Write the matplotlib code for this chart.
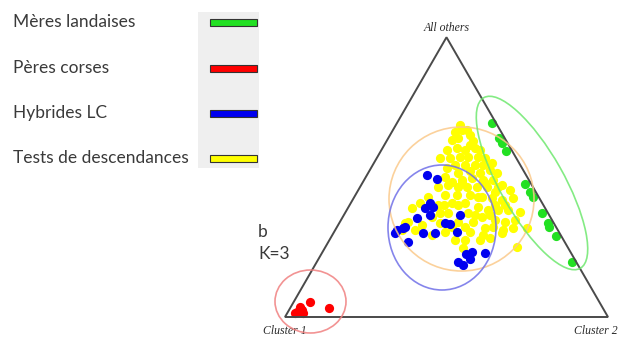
import numpy as np
import matplotlib
matplotlib.use("Agg")
import matplotlib.pyplot as plt
from matplotlib.patches import Ellipse, Rectangle, Polygon

# ---------------- data (ternary memberships: q2 = Cluster 2, q3 = All others; q1 = 1-q2-q3)
legend_labels = ["Mères landaises", "Pères corses", "Hybrides LC", "Tests de descendances"]
legend_colors = ["#22e022", "#ff0000", "#0000f0", "#ffff00"]
vertex_labels = ["Cluster 1", "Cluster 2", "All others"]

green_q2 = [0.294, 0.343, 0.361, 0.388, 0.506, 0.535, 0.554, 0.610, 0.646, 0.657, 0.694, 0.790]
green_q3 = [0.693, 0.639, 0.621, 0.593, 0.475, 0.446, 0.429, 0.371, 0.336, 0.321, 0.289, 0.196]

red_q2 = [0.050, 0.120, 0.028, 0.028, 0.040, 0.049, 0.024]
red_q3 = [0.054, 0.032, 0.036, 0.018, 0.025, 0.014, 0.014]

blue_q2 = [0.224, 0.186, 0.245, 0.239, 0.262, 0.267, 0.360, 0.232, 0.211, 0.191, 0.190, 0.247,
           0.277, 0.314, 0.328, 0.345, 0.381, 0.463, 0.448, 0.437, 0.458, 0.469, 0.505, 0.206]
blue_q3 = [0.493, 0.507, 0.407, 0.389, 0.393, 0.364, 0.364, 0.354, 0.321, 0.311, 0.300, 0.268,
           0.300, 0.300, 0.336, 0.332, 0.304, 0.232, 0.225, 0.196, 0.186, 0.207, 0.229, 0.318]

yellow_q2 = [0.214, 0.229, 0.201, 0.216, 0.268, 0.203, 0.231, 0.259, 0.286, 0.196, 0.227, 0.256,
             0.281, 0.312, 0.341, 0.317, 0.286, 0.255, 0.236, 0.372, 0.399, 0.399, 0.436, 0.368,
             0.331, 0.303, 0.276, 0.245, 0.303, 0.331, 0.362, 0.393, 0.241, 0.269, 0.309, 0.380,
             0.427, 0.228, 0.277, 0.315, 0.355, 0.396, 0.428, 0.463, 0.493, 0.214, 0.313, 0.354,
             0.401, 0.437, 0.468, 0.499, 0.276, 0.319, 0.381, 0.431, 0.477, 0.511, 0.539, 0.211,
             0.260, 0.312, 0.356, 0.397, 0.412, 0.460, 0.483, 0.520, 0.547, 0.207, 0.247, 0.309,
             0.344, 0.420, 0.522, 0.593, 0.428, 0.540, 0.590, 0.198, 0.204, 0.389, 0.421, 0.466,
             0.493, 0.406, 0.336, 0.292, 0.196, 0.248, 0.306, 0.335, 0.366, 0.199, 0.274,
             0.481, 0.453, 0.383, 0.294, 0.366, 0.312, 0.346, 0.278, 0.470, 0.450, 0.467, 0.427,
             0.266]
yellow_q3 = [0.668, 0.668, 0.632, 0.639, 0.629, 0.596, 0.604, 0.596, 0.604, 0.568, 0.568, 0.571,
             0.571, 0.571, 0.543, 0.543, 0.543, 0.543, 0.532, 0.525, 0.514, 0.489, 0.471, 0.489,
             0.496, 0.489, 0.482, 0.500, 0.464, 0.464, 0.464, 0.464, 0.464, 0.471, 0.479, 0.479,
             0.464, 0.429, 0.436, 0.436, 0.436, 0.429, 0.425, 0.418, 0.425, 0.407, 0.407, 0.407,
             0.393, 0.382, 0.382, 0.382, 0.357, 0.371, 0.371, 0.357, 0.346, 0.339, 0.346, 0.339,
             0.329, 0.336, 0.321, 0.321, 0.339, 0.318, 0.321, 0.311, 0.318, 0.311, 0.311, 0.293,
             0.304, 0.275, 0.300, 0.250, 0.246, 0.375, 0.318, 0.389, 0.336, 0.275, 0.304, 0.275,
             0.282, 0.364, 0.400, 0.400, 0.661, 0.650, 0.596, 0.568, 0.550, 0.686, 0.400,
             0.400, 0.364, 0.429, 0.371, 0.339, 0.521, 0.514, 0.514, 0.454, 0.400, 0.293, 0.446,
             0.614]

# ---------------- figure
W, H = 619, 341
fig = plt.figure(figsize=(W / 100, H / 100), dpi=100)
S = 323.0          # pixels per ternary unit
X0, Y0 = 285.0, 317.0  # pixel position of Cluster 1 vertex

ax = fig.add_axes([0, 0, 1, 1])
ax.set_xlim((0 - X0) / S, (W - X0) / S)
ax.set_ylim((Y0 - H) / S, Y0 / S)
ax.axis("off")

r3 = np.sqrt(3) / 2


def tern(q2, q3):
    q2 = np.asarray(q2)
    q3 = np.asarray(q3)
    return q2 + 0.5 * q3, r3 * q3


def px(x, y):
    return (x - X0) / S, (Y0 - y) / S


ms = 44
for q2, q3, col, z in [(yellow_q2, yellow_q3, "#ffff00", 3),
                       (blue_q2, blue_q3, "#0000f0", 4),
                       (green_q2, green_q3, "#22e022", 4),
                       (red_q2, red_q3, "#ff0000", 4)]:
    x, y = tern(q2, q3)
    ax.scatter(x, y, s=ms, c=col, linewidths=0, zorder=z)

# triangle
tri = Polygon([(0, 0), (1, 0), (0.5, r3)], closed=True, fill=False,
              edgecolor="#4a4a4a", linewidth=1.4, zorder=6)
ax.add_patch(tri)

# ellipses (pixel geometry)
for (cx, cy, w, h, ang, col) in [(461.5, 199, 145, 144, 0, "#fbc98a"),
                                 (442, 227.5, 108, 125, 0, "#7070e8"),
                                 (532, 183, 196, 64, -60.5, "#6ee86e"),
                                 (310.5, 301.5, 71, 63, 0, "#f08080")]:
    c = px(cx, cy)
    ax.add_patch(Ellipse(c, w / S, h / S, angle=ang, fill=False,
                         edgecolor=col, linewidth=1.2, alpha=0.85, zorder=7))

# vertex labels
vfont = dict(family="Liberation Serif", style="italic", fontsize=8.5, color="#2a2a2a")
ax.text(*px(285, 331), vertex_labels[0], ha="center", va="center", **vfont)
ax.text(*px(596, 331), vertex_labels[1], ha="center", va="center", **vfont)
ax.text(*px(447, 28), vertex_labels[2], ha="center", va="center", **vfont)

# overlay axes in pixel coords for legend panel
ov = fig.add_axes([0, 0, 1, 1])
ov.set_xlim(0, W)
ov.set_ylim(H, 0)
ov.axis("off")
ov.patch.set_alpha(0)

ov.add_patch(Rectangle((198, 12), 61, 156, facecolor="#efefef", edgecolor="none", zorder=1))
ys = [22, 68, 113, 158]
tfont = dict(family="Lato", fontsize=12.5, color="#3a3a3a")
for lab, col, yy in zip(legend_labels, legend_colors, ys):
    ov.add_patch(Rectangle((210, yy - 3.5), 47, 7, facecolor=col, edgecolor="#333333",
                           linewidth=0.8, zorder=2))
    ov.text(13, yy, lab, ha="left", va="center", **tfont)

ov.text(258, 232, "b", ha="left", va="center", **tfont)
ov.text(258, 254, "K=3", ha="left", va="center", **tfont)

fig.savefig("out.png", dpi=100)
